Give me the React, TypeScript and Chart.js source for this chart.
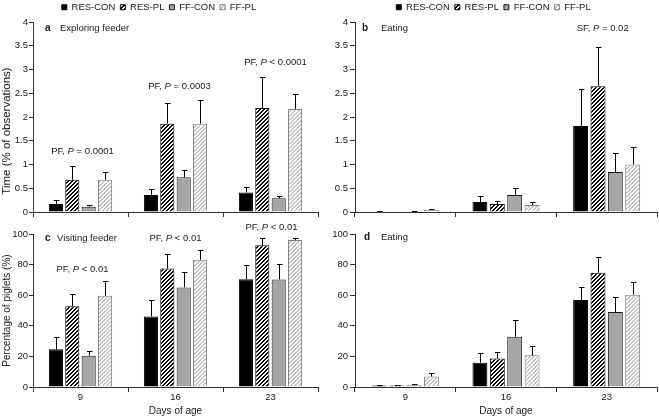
import React, { useEffect, useRef } from 'react';
import { Chart, registerables } from 'chart.js';

Chart.register(...registerables);

const FONT = "'Liberation Sans', Arial, Helvetica, sans-serif";

// ---------- data ----------
const days = ['9', '16', '23'];
const seriesNames = ['RES-CON', 'RES-PL', 'FF-CON', 'FF-PL'];

// a: Exploring feeder, time (% of observations)
const aResCon = [0.17, 0.36, 0.41];
const aResConSE = [0.08, 0.13, 0.11];
const aResPl = [0.68, 1.86, 2.19];
const aResPlSE = [0.28, 0.44, 0.66];
const aFfCon = [0.11, 0.73, 0.29];
const aFfConSE = [0.03, 0.16, 0.05];
const aFfPl = [0.68, 1.86, 2.17];
const aFfPlSE = [0.16, 0.49, 0.31];

// b: Eating, time (% of observations)
const bResCon = [0.01, 0.21, 1.81];
const bResConSE = [0.01, 0.12, 0.78];
const bResPl = [0, 0.17, 2.65];
const bResPlSE = [0, 0.07, 0.82];
const bFfCon = [0.01, 0.36, 0.84];
const bFfConSE = [0.01, 0.15, 0.41];
const bFfPl = [0.04, 0.15, 1.0];
const bFfPlSE = [0.02, 0.06, 0.37];

// c: Visiting feeder, percentage of piglets (%)
const cResCon = [24.6, 46.1, 70.5];
const cResConSE = [8.2, 10.5, 9.4];
const cResPl = [52.8, 77.5, 92.6];
const cResPlSE = [7.9, 9.2, 4.8];
const cFfCon = [20.5, 65.1, 70.3];
const cFfConSE = [3.3, 9.8, 10.0];
const cFfPl = [59.6, 83.2, 96.1];
const cFfPlSE = [9.6, 6.1, 1.5];

// d: Eating, percentage of piglets (%)
const dResCon = [1.0, 15.9, 56.8];
const dResConSE = [0.6, 6.1, 8.5];
const dResPl = [1.0, 18.6, 74.7];
const dResPlSE = [0.6, 4.5, 10.0];
const dFfCon = [1.0, 32.8, 49.1];
const dFfConSE = [0.8, 10.9, 9.4];
const dFfPl = [6.8, 20.7, 60.3];
const dFfPlSE = [2.6, 5.9, 8.5];

const timeTicksMax = 4;
const timeTicksStep = 0.5;
const pctTicksMax = 100;
const pctTicksStep = 20;

// ---------- helpers ----------
function makeHatch(fg: string, bg: string) {
  const c = document.createElement('canvas');
  c.width = 4;
  c.height = 4;
  const g = c.getContext('2d')!;
  g.fillStyle = bg;
  g.fillRect(0, 0, 4, 4);
  g.fillStyle = fg;
  for (let x = 0; x < 4; x++) {
    for (let y = 0; y < 4; y++) {
      if ((x + y) % 4 < 2) g.fillRect(x, y, 1, 1);
    }
  }
  return g.createPattern(c, 'repeat');
}

type Part = [string, string];

function drawParts(ctx: CanvasRenderingContext2D, parts: Part[], x: number, y: number, center: boolean, size: number) {
  const fonts = parts.map(([, st]) => `${st === 'b' ? 'bold ' : st === 'i' ? 'italic ' : ''}${st === 'b' ? size + 0.5 : size}px ${FONT}`);
  let total = 0;
  const widths = parts.map(([t], i) => {
    ctx.font = fonts[i];
    const w = ctx.measureText(t).width;
    total += w;
    return w;
  });
  let cx = center ? x - total / 2 : x;
  ctx.textAlign = 'left';
  ctx.textBaseline = 'middle';
  parts.forEach(([t], i) => {
    ctx.font = fonts[i];
    ctx.fillText(t, cx, y);
    cx += widths[i];
  });
}

const errPlugin = {
  id: 'errbars',
  afterDatasetsDraw(chart: any, _args: any, opts: any) {
    const { ctx } = chart;
    const ys = chart.scales.y;
    ctx.save();
    ctx.strokeStyle = '#000';
    ctx.lineWidth = 1;
    chart.data.datasets.forEach((ds: any, i: number) => {
      const meta = chart.getDatasetMeta(i);
      const se = opts.se[i];
      meta.data.forEach((bar: any, j: number) => {
        const e = se[j];
        if (!e) return;
        const v = ds.data[j];
        const x = Math.round(bar.x) + 0.5;
        const y0 = ys.getPixelForValue(v);
        const y1 = Math.round(ys.getPixelForValue(v + e)) + 0.5;
        ctx.beginPath();
        ctx.moveTo(x, y0);
        ctx.lineTo(x, y1);
        ctx.moveTo(x - 2.5, y1);
        ctx.lineTo(x + 3, y1);
        ctx.stroke();
      });
    });
    ctx.restore();
  },
};

const notesPlugin = {
  id: 'notes',
  afterDraw(chart: any, _args: any, opts: any) {
    const { ctx, chartArea } = chart;
    const xs = chart.scales.x;
    const ys = chart.scales.y;
    ctx.save();
    ctx.fillStyle = '#1a1a1a';
    (opts.panel || []).forEach((p: any) => {
      drawParts(ctx, p.parts, chartArea.left + p.dx, chartArea.top + p.dy, false, 9.5);
    });
    (opts.items || []).forEach((it: any) => {
      const x = xs.getPixelForValue(it.cat) + it.dx;
      const y = ys.getPixelForValue(it.value);
      drawParts(ctx, it.parts, x, y, true, 9.5);
    });
    if (opts.rot) {
      const r = opts.rot;
      ctx.save();
      ctx.translate(r.x, (chartArea.top + chartArea.bottom) / 2 + r.dy);
      ctx.rotate(-Math.PI / 2);
      ctx.font = `${r.size}px ${FONT}`;
      ctx.textAlign = 'center';
      ctx.textBaseline = 'middle';
      ctx.fillText(r.text, 0, 0);
      ctx.restore();
    }
    ctx.restore();
  },
};

Chart.register(errPlugin as any, notesPlugin as any);

interface PanelSpec {
  left: number;
  top: number;
  width: number;
  height: number;
  legend: boolean;
  xLabels: boolean;
  yMax: number;
  yStep: number;
  yTitle: string;
  yWidth: number;
  yTickLen: number;
  yTickPad: number;
  padTop: number;
  padRight: number;
  xHeight: number;
  means: number[][];
  ses: number[][];
  panel: any[];
  items: any[];
  rot?: any;
}

function buildConfig(p: PanelSpec): any {
  const fills = [
    '#000000',
    makeHatch('#000000', '#ffffff'),
    '#a6a6a6',
    makeHatch('#c4c4c4', '#ffffff'),
  ];
  const borders = ['#000000', '#000000', '#1a1a1a', '#7f7f7f'];
  return {
    type: 'bar',
    data: {
      labels: days,
      datasets: p.means.map((m, i) => ({
        label: seriesNames[i],
        data: m,
        backgroundColor: fills[i],
        borderColor: borders[i],
        borderWidth: 1,
        categoryPercentage: 0.69,
        barPercentage: 0.86,
      })),
    },
    options: {
      responsive: false,
      animation: false,
      events: [],
      layout: { padding: { top: p.padTop, right: p.padRight, left: 0, bottom: 0 } },
      plugins: {
        legend: {
          display: p.legend,
          position: 'top',
          labels: {
            boxWidth: 5,
            boxHeight: 5,
            padding: 5,
            color: '#1a1a1a',
            font: { family: FONT, size: 9.5 },
          },
        },
        tooltip: { enabled: false },
        errbars: { se: p.ses },
        notes: { panel: p.panel, items: p.items, rot: p.rot },
      },
      scales: {
        x: {
          grid: { offset: true, drawOnChartArea: false, drawTicks: true, tickLength: 5, color: '#333' },
          border: { display: true, color: '#333', width: 1 },
          ticks: { display: p.xLabels, color: '#1a1a1a', padding: 0, font: { family: FONT, size: 9.5 } },
          title: {
            display: p.xLabels,
            text: 'Days of age',
            color: '#1a1a1a',
            padding: 0,
            font: { family: FONT, size: 10 },
          },
          afterFit: (s: any) => {
            s.height = p.xHeight;
          },
        },
        y: {
          min: 0,
          max: p.yMax,
          ticks: {
            stepSize: p.yStep,
            color: '#1a1a1a',
            padding: p.yTickPad,
            font: { family: FONT, size: 9.5 },
            callback: (v: any) => String(v),
          },
          grid: { drawOnChartArea: false, drawTicks: true, tickLength: p.yTickLen, color: '#333' },
          border: { display: true, color: '#333', width: 1 },
          title: {
            display: !!p.yTitle,
            text: p.yTitle,
            color: '#1a1a1a',
            padding: { top: 1, bottom: 0 },
            font: { family: FONT, size: 10 },
          },
          afterFit: (s: any) => {
            s.width = p.yWidth;
          },
        },
      },
    },
  };
}

const panels: PanelSpec[] = [
  {
    left: 0, top: 0, width: 330, height: 220,
    legend: true, xLabels: false,
    yMax: timeTicksMax, yStep: timeTicksStep, yTitle: '',
    yWidth: 33, yTickLen: 4, yTickPad: 1, padTop: -2.5, padRight: 12, xHeight: 8,
    means: [aResCon, aResPl, aFfCon, aFfPl],
    ses: [aResConSE, aResPlSE, aFfConSE, aFfPlSE],
    rot: { text: 'Time (% of observations)', x: 7, dy: 14, size: 11.5 },
    panel: [
      { dx: 12, dy: 6, parts: [['a', 'b']] },
      { dx: 27, dy: 6, parts: [['Exploring feeder', 'n']] },
    ],
    items: [
      { cat: 0, value: 1.28, dx: 2, parts: [['PF, ', 'n'], ['P', 'i'], [' = 0.0001', 'n']] },
      { cat: 1, value: 2.65, dx: 4, parts: [['PF, ', 'n'], ['P', 'i'], [' = 0.0003', 'n']] },
      { cat: 2, value: 3.14, dx: 5, parts: [['PF, ', 'n'], ['P', 'i'], [' < 0.0001', 'n']] },
    ],
  },
  {
    left: 330, top: 0, width: 329, height: 220,
    legend: true, xLabels: false,
    yMax: timeTicksMax, yStep: timeTicksStep, yTitle: '',
    yWidth: 25, yTickLen: 5, yTickPad: 2, padTop: -2.5, padRight: 2, xHeight: 8,
    means: [bResCon, bResPl, bFfCon, bFfPl],
    ses: [bResConSE, bResPlSE, bFfConSE, bFfPlSE],
    panel: [
      { dx: 7, dy: 6, parts: [['b', 'b']] },
      { dx: 26, dy: 6, parts: [['Eating', 'n']] },
    ],
    items: [
      { cat: 2, value: 3.87, dx: -4, parts: [['SF, ', 'n'], ['P', 'i'], [' = 0.02', 'n']] },
    ],
  },
  {
    left: 0, top: 215, width: 330, height: 202,
    legend: false, xLabels: true,
    yMax: pctTicksMax, yStep: pctTicksStep, yTitle: 'Percentage of piglets (%)',
    yWidth: 33, yTickLen: 4, yTickPad: 1, padTop: 19, padRight: 12, xHeight: 30,
    means: [cResCon, cResPl, cFfCon, cFfPl],
    ses: [cResConSE, cResPlSE, cFfConSE, cFfPlSE],
    panel: [
      { dx: 12, dy: 4, parts: [['c', 'b']] },
      { dx: 24, dy: 4, parts: [['Visiting feeder', 'n']] },
    ],
    items: [
      { cat: 0, value: 77, dx: 2, parts: [['PF, ', 'n'], ['P', 'i'], [' < 0.01', 'n']] },
      { cat: 1, value: 97.4, dx: 0, parts: [['PF, ', 'n'], ['P', 'i'], [' < 0.01', 'n']] },
      { cat: 2, value: 104.6, dx: 1, parts: [['PF, ', 'n'], ['P', 'i'], [' < 0.01', 'n']] },
    ],
  },
  {
    left: 330, top: 215, width: 329, height: 202,
    legend: false, xLabels: true,
    yMax: pctTicksMax, yStep: pctTicksStep, yTitle: '',
    yWidth: 25, yTickLen: 5, yTickPad: 2, padTop: 19, padRight: 2, xHeight: 30,
    means: [dResCon, dResPl, dFfCon, dFfPl],
    ses: [dResConSE, dResPlSE, dFfConSE, dFfPlSE],
    panel: [
      { dx: 9, dy: 3, parts: [['d', 'b']] },
      { dx: 26, dy: 3, parts: [['Eating', 'n']] },
    ],
    items: [],
  },
];

function Panel({ spec }: { spec: PanelSpec }) {
  const ref = useRef<HTMLCanvasElement>(null);
  useEffect(() => {
    if (!ref.current) return;
    const chart = new Chart(ref.current, buildConfig(spec));
    return () => chart.destroy();
  }, [spec]);
  return (
    <canvas
      ref={ref}
      width={spec.width}
      height={spec.height}
      style={{
        position: 'absolute',
        left: spec.left,
        top: spec.top,
        width: spec.width,
        height: spec.height,
        display: 'block',
      }}
    />
  );
}

export default function App() {
  return (
    <div style={{ position: 'absolute', left: 0, top: 0, width: 659, height: 417, background: '#fff' }}>
      {panels.map((p, i) => (
        <Panel key={i} spec={p} />
      ))}
    </div>
  );
}
